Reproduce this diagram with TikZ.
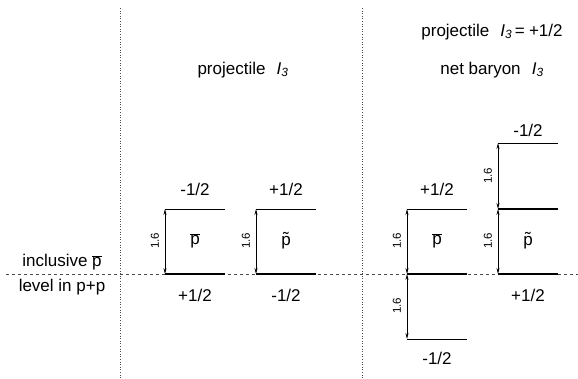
\documentclass[tikz,border=0pt]{standalone}
\usepackage{fontspec}
\setmainfont{Liberation Sans}
\usetikzlibrary{arrows.meta}
\newcommand{\pbar}{$\overline{\mbox{p}}$}
\newcommand{\ptil}{\ooalign{p\cr\hidewidth\raisebox{0.05em}{\char"02DC}\hidewidth\cr}}
\newcommand{\Ithree}{\textit{I}\textsubscript{\textit{3}}}
\begin{document}
\begin{tikzpicture}[x=1pt,y=-1pt,
  lbl/.style={font=\fontsize{17}{20}\selectfont, inner sep=0pt},
  num/.style={font=\fontsize{11.5}{12}\selectfont, inner sep=0pt, rotate=90},
  lvl/.style={line width=0.8pt},
  lvlthick/.style={line width=1.6pt},
  dimarrow/.style={line width=0.7pt, {Stealth[length=6pt,width=3pt]}-{Stealth[length=6pt,width=3pt]}},
  sep/.style={dotted, line width=0.6pt, black!70},
  base/.style={dash pattern=on 3pt off 3pt, line width=0.8pt, black!70}]
\useasboundingbox (0,0) rectangle (578,378);
% separators
\draw[sep] (120,8) -- (120,378);
\draw[sep] (362,8) -- (362,378);
\draw[base] (6,274) -- (578,274);
% headings
\node[lbl] (h1) at (243,70) {projectile\hspace{0.65em}\Ithree};
\node[lbl] (h2) at (492,32) {projectile\hspace{0.65em}\Ithree\hspace{0.15em}=\hspace{0.25em}+1/2};
\node[lbl] (h3) at (492,70) {net baryon\hspace{0.65em}\Ithree};
\node[lbl] (l1) at (62,262) {inclusive \pbar};
\node[lbl] (l2) at (62,287) {level in p+p};
% box 1
\coordinate (a0) at (165,274); \coordinate (a1) at (165,209);
\draw[lvlthick] (a0) -- (225,274);
\draw[lvl] (a1) -- (225,209);
\draw[dimarrow] (a0) -- (a1);
\node[lbl] (a1t) at (195,189) {-1/2};
\node[lbl] (a0t) at (195,295) {+1/2};
\node[num] (a16) at (155,241) {1.6};
\node[lbl] (ap) at (195,241) {\pbar};
% box 2
\coordinate (b0) at (256,274); \coordinate (b1) at (256,209);
\draw[lvlthick] (b0) -- (316,274);
\draw[lvl] (b1) -- (316,209);
\draw[dimarrow] (b0) -- (b1);
\node[lbl] (b1t) at (286,189) {+1/2};
\node[lbl] (b0t) at (286,295) {-1/2};
\node[num] (b16) at (246,241) {1.6};
\node[lbl] (bp) at (286,241) {\ptil};
% box 3
\coordinate (c0) at (407,274); \coordinate (c1) at (407,209); \coordinate (c2) at (407,339);
\draw[lvlthick] (c0) -- (467,274);
\draw[lvl] (c1) -- (467,209);
\draw[lvl] (c2) -- (467,339);
\draw[dimarrow] (c0) -- (c1);
\draw[dimarrow] (c0) -- (c2);
\node[lbl] (c1t) at (437,189) {+1/2};
\node[lbl] (c2t) at (437,358) {-1/2};
\node[num] (c16a) at (397,241) {1.6};
\node[num] (c16b) at (397,306) {1.6};
\node[lbl] (cp) at (437,241) {\pbar};
% box 4
\coordinate (d0) at (498,274); \coordinate (d1) at (498,209); \coordinate (d2) at (498,143);
\draw[lvlthick] (d0) -- (558,274);
\draw[lvlthick] (d1) -- (558,209);
\draw[lvl] (d2) -- (558,143);
\draw[dimarrow] (d0) -- (d1);
\draw[dimarrow] (d1) -- (d2);
\node[lbl] (d2t) at (528,130) {-1/2};
\node[lbl] (d0t) at (528,295) {+1/2};
\node[num] (d16a) at (488,241) {1.6};
\node[num] (d16b) at (488,176) {1.6};
\node[lbl] (dp) at (528,241) {\ptil};
\end{tikzpicture}
\end{document}
